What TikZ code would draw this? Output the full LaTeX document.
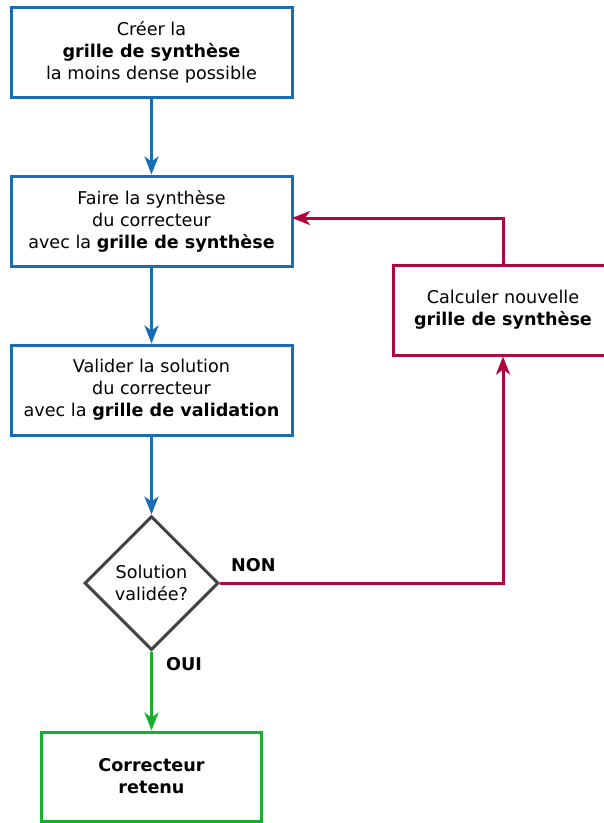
\documentclass[tikz,border=0pt]{standalone}
\usepackage{fontspec}
\setmainfont{DejaVu Sans}
\usetikzlibrary{shapes.geometric,arrows.meta}
\definecolor{cblue}{HTML}{1A6DB5}
\definecolor{cred}{HTML}{B0043C}
\definecolor{cgreen}{HTML}{1BAE2C}
\definecolor{cgray}{HTML}{424242}
\tikzset{
  txt/.style={font=\fontsize{17.6}{22}\selectfont, align=center, inner sep=0pt},
  stepbox/.style={txt, draw=cblue, line width=3pt, minimum width=281pt, minimum height=90pt},
  redbox/.style={txt, draw=cred, line width=3pt, minimum width=220pt, minimum height=90pt},
  greenbox/.style={txt, draw=cgreen, line width=3pt, minimum width=220pt, minimum height=89pt},
  decbox/.style={txt, shape=diamond, draw=cgray, line width=3pt, minimum width=134pt, minimum height=134pt},
  conn/.style={line width=3pt, -{Stealth[length=18pt,width=14pt,inset=5pt]}},
  lab/.style={font=\fontsize{17.6}{20}\selectfont\bfseries, inner sep=0pt}
}
\begin{document}
\begin{tikzpicture}[x=1pt,y=-1pt]
\useasboundingbox (0,0) rectangle (604,823);
\clip (0,0) rectangle (604,823);
\node[stepbox] (b1) at (151.5,52) {Créer la\\\textbf{grille de synthèse}\\la moins dense possible};
\node[stepbox] (b2) at (151.5,221) {Faire la synthèse\\du correcteur\\avec la \textbf{grille de synthèse}};
\node[stepbox] (b3) at (151.5,390) {Valider la solution\\du correcteur\\avec la \textbf{grille de validation}};
\node[decbox] (dec) at (151.5,583) {Solution\\validée?};
\node[greenbox] (fin) at (151.5,776.5) {\textbf{Correcteur}\\\textbf{retenu}};
\node[redbox] (calc) at (503,310) {Calculer nouvelle\\\textbf{grille de synthèse}};
\coordinate (b2in) at (292,218);
\draw[conn, draw=cblue] (b1) -- (b2);
\draw[conn, draw=cblue] (b2) -- (b3);
\draw[conn, draw=cblue] (b3) -- (dec);
\draw[conn, draw=cgreen] (dec) -- (fin);
\draw[conn, draw=cred] (dec.east) -| (calc.south);
\draw[conn, draw=cred] (calc.north) |- (b2in);
\node[lab, anchor=west] (non) at (231,565) {NON};
\node[lab, anchor=west] (oui) at (166,664) {OUI};
\end{tikzpicture}
\end{document}
